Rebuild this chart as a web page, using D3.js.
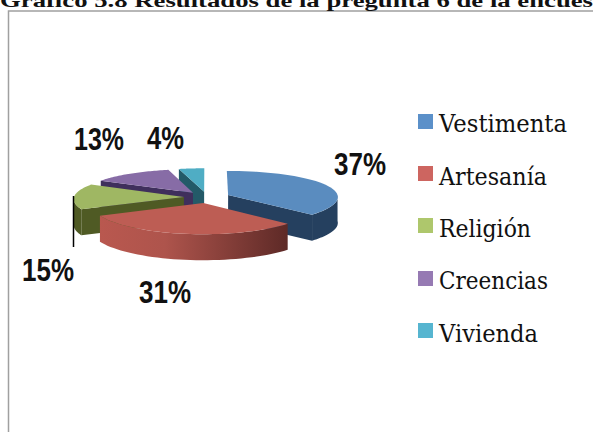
<!DOCTYPE html>
<html>
<head>
<meta charset="utf-8">
<script src="https://cdn.jsdelivr.net/npm/d3@7"></script>
<style>
html, body { margin: 0; padding: 0; background: #fff; overflow: hidden; }
</style>
</head>
<body>
<div id="chart"></div>
<script>
// data
var categories = ["Vestimenta", "Artesanía", "Religión", "Creencias", "Vivienda"];
var values = [37, 31, 15, 13, 4];
var title = "Gráfico 5.8 Resultados de la pregunta 6 de la encues";

// colours, same order as categories
var topColors = ["#5a8cbf", "#bd5d54", "#9fb763", "#876ca6", "#4fadc4"];
var sideColors = ["#25405f", "#5e2a27", "#4f5a24", "#3f2f5c", "#235a68"];
var legendColors = ["#5b90c9", "#cd6560", "#aec76c", "#967ab3", "#56b5d0"];

// where the percent labels and legend rows sit
var labelX = [334, 139, 22, 74, 147];
var labelY = [175, 303, 281, 150, 149];
var labelW = [52, 52, 52, 50, 37];
var legendY = [114, 166, 218, 271, 323];
var legendBase = [132, 185, 237, 289, 342];
var legendW = [128, 108, 92, 109, 99];

var width = 593, height = 432;
var depth = 26;
var explode = 0.21;

var svg = d3.select("#chart").append("svg")
  .attr("width", width)
  .attr("height", height);

// unit circle -> screen
var xScale = d3.scaleLinear().domain([-1, 1]).range([207 - 110, 207 + 110]);
var yScale = d3.scaleLinear().domain([-1, 1]).range([197.3 - 27.3, 197.3 + 27.3]);

// front of the pie is drawn a bit bigger than the back
function project(d, r, a, dz) {
  var mid = (d.startAngle + d.endAngle) / 2;
  var u = r * Math.sin(a) + explode * Math.sin(mid);
  var v = -r * Math.cos(a) - explode * Math.cos(mid);
  var k = 1 + 0.06 * v;
  return [xScale(u * k), yScale(v * (1 + 0.1 * v)) + dz];
}

function arcPoints(d, a0, a1, dz) {
  return d3.range(0, 41).map(function(i) {
    return project(d, 1, a0 + (a1 - a0) * i / 40, dz);
  });
}

var line = d3.line();

var pie = d3.pie().sort(null).value(function(d) { return d; });
var slices = pie(values);

// gradient for the red rim
var grad = svg.append("defs").append("linearGradient")
  .attr("id", "rimRed")
  .attr("gradientUnits", "userSpaceOnUse")
  .attr("x1", 99).attr("x2", 287).attr("y1", 0).attr("y2", 0);
grad.append("stop").attr("offset", "0%").attr("stop-color", "#b9584f");
grad.append("stop").attr("offset", "35%").attr("stop-color", "#ae544c");
grad.append("stop").attr("offset", "100%").attr("stop-color", "#5e2a27");

// frame
svg.append("path")
  .attr("d", "M8.5,432V11H593")
  .attr("fill", "none")
  .attr("stroke", "#a0a0a0")
  .attr("stroke-width", 1.5);

svg.append("text")
  .attr("x", 0).attr("y", 6.5)
  .attr("font-family", "Liberation Serif")
  .attr("font-weight", "bold")
  .attr("font-size", 19)
  .attr("fill", "#111")
  .attr("textLength", 593)
  .attr("lengthAdjust", "spacingAndGlyphs")
  .text(title);

// painter order, back to front
var order = [4, 3, 2, 0, 1];
var g = svg.append("g");

order.forEach(function(i) {
  var d = slices[i];
  var a0 = d.startAngle, a1 = d.endAngle;
  var side = i === 1 ? "url(#rimRed)" : sideColors[i];

  // start face
  if (Math.sin(a0) < -0.001) {
    g.append("path")
      .attr("d", line([project(d, 0, a0, 0), project(d, 1, a0, 0), project(d, 1, a0, depth), project(d, 0, a0, depth)]) + "Z")
      .attr("fill", sideColors[i]);
  }
  // end face
  if (Math.sin(a1) > 0.001) {
    g.append("path")
      .attr("d", line([project(d, 0, a1, 0), project(d, 1, a1, 0), project(d, 1, a1, depth), project(d, 0, a1, depth)]) + "Z")
      .attr("fill", sideColors[i]);
  }
  // outer rim, only the front half shows
  var r0 = Math.max(a0, Math.PI / 2), r1 = Math.min(a1, Math.PI * 1.5);
  if (r1 > r0) {
    var rim = arcPoints(d, r0, r1, 0).concat(arcPoints(d, r0, r1, depth).reverse());
    g.append("path").attr("d", line(rim) + "Z").attr("fill", side);
  }
  // top
  var top = [project(d, 0, a0, 0)].concat(arcPoints(d, a0, a1, 0));
  g.append("path").attr("d", line(top) + "Z").attr("fill", topColors[i]);
});

// leader line of the 15% label
svg.append("line")
  .attr("x1", 73.5).attr("x2", 73.5)
  .attr("y1", 196).attr("y2", 247)
  .attr("stroke", "#000")
  .attr("stroke-width", 1.5);

// percent labels
svg.selectAll(".pct")
  .data(values)
  .enter()
  .append("text")
  .attr("class", "pct")
  .attr("x", function(d, i) { return labelX[i]; })
  .attr("y", function(d, i) { return labelY[i]; })
  .attr("font-family", "Liberation Sans")
  .attr("font-weight", "bold")
  .attr("font-size", 32)
  .attr("fill", "#111")
  .attr("textLength", function(d, i) { return labelW[i]; })
  .attr("lengthAdjust", "spacingAndGlyphs")
  .text(function(d) { return d + "%"; });

// legend
var legend = svg.selectAll(".legend")
  .data(categories)
  .enter()
  .append("g")
  .attr("class", "legend");

legend.append("rect")
  .attr("x", 418)
  .attr("y", function(d, i) { return legendY[i]; })
  .attr("width", 15)
  .attr("height", 15)
  .attr("fill", function(d, i) { return legendColors[i]; });

legend.append("text")
  .attr("x", 439)
  .attr("y", function(d, i) { return legendBase[i]; })
  .attr("font-family", "DejaVu Serif")
  .attr("font-size", 24)
  .attr("fill", "#111")
  .attr("textLength", function(d, i) { return legendW[i]; })
  .attr("lengthAdjust", "spacingAndGlyphs")
  .text(function(d) { return d; });
</script>
</body>
</html>
